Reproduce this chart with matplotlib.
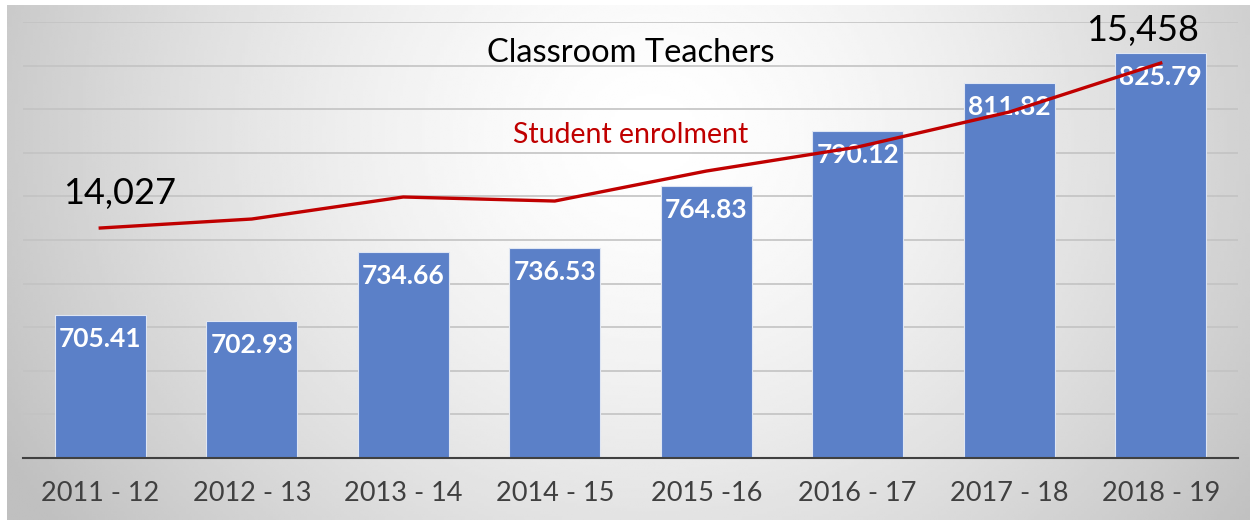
import numpy as np
import matplotlib
matplotlib.use('Agg')
import matplotlib.pyplot as plt

years = ['2011 - 12', '2012 - 13', '2013 - 14', '2014 - 15',
         '2015 -16', '2016 - 17', '2017 - 18', '2018 - 19']
teachers = [705.41, 702.93, 734.66, 736.53, 764.83, 790.12, 811.82, 825.79]
enrolment = [14027, 14105, 14296, 14261, 14521, 14730, 15033, 15458]

plt.rcParams['font.family'] = ['Lato', 'DejaVu Sans']

fig = plt.figure(figsize=(12.5, 5.2), dpi=100)

# radial grey background
bg = fig.add_axes([7 / 1250, 0, 1 - 7 / 1250, 1 - 5 / 520], zorder=-10)
gx, gy = np.meshgrid(np.linspace(0, 1, 400), np.linspace(0, 1, 200))
r = np.sqrt(((gx - 0.52) / 0.6) ** 2 + ((gy - 0.25) / 1.3) ** 2)
shade = 1.0 - 0.25 * np.clip(r, 0, 1) ** 1.5
bg.imshow(shade, cmap='gray', vmin=0, vmax=1, aspect='auto',
          extent=[0, 1, 1, 0], interpolation='bilinear')
bg.axis('off')

ax = fig.add_axes([23 / 1250, 1 - 458 / 520, (1238 - 23) / 1250, (458 - 22) / 520])
ax.patch.set_alpha(0)
x = np.arange(len(years))
ax.bar(x, teachers, width=0.6, color='#5b80c8', edgecolor='#dfe6f3',
       linewidth=0.8, zorder=2)
ax.set_ylim(640, 840)
ax.set_xlim(-0.51, 7.51)
ax.set_yticks(np.arange(660, 841, 20))
ax.yaxis.grid(True, color='#c3c3c3', linewidth=1.2, zorder=0)
ax.set_axisbelow(True)
for s in ['top', 'right', 'left']:
    ax.spines[s].set_visible(False)
ax.spines['bottom'].set_color('#404040')
ax.spines['bottom'].set_linewidth(1.5)
ax.set_xticks(x)
ax.set_xticklabels(years, fontsize=19.5, color='#404040')

for xi, v in zip(x, teachers):
    ax.text(xi, v - 11, f'{v:.2f}', ha='center', va='center', color='white',
            fontsize=19, fontweight='bold', zorder=3)

ax2 = ax.twinx()
ax2.set_ylim(12032, 15814)
ax2.plot(x, enrolment, color='#c00000', linewidth=2.4, zorder=5)
ax2.axis('off')

# twinx turns the left ticks back on
ax.tick_params(axis='y', left=False, right=False, labelleft=False)
ax.tick_params(axis='x', bottom=False, pad=13)

ax.text(0.5, 0.93, 'Classroom Teachers', transform=ax.transAxes, ha='center',
        va='center', fontsize=23.5, color='black')
ax2.text(x[0] + 0.13, enrolment[0] + 300, f'{enrolment[0]:,}', ha='center',
         va='center', fontsize=26, color='black')
ax2.text(x[-1] - 0.12, enrolment[-1] + 280, f'{enrolment[-1]:,}', ha='center',
         va='center', fontsize=26, color='black')
ax2.text(3.5, 14834, 'Student enrolment', ha='center', va='center',
         fontsize=20.5, color='#c00000')

fig.savefig('out.png', dpi=100)
